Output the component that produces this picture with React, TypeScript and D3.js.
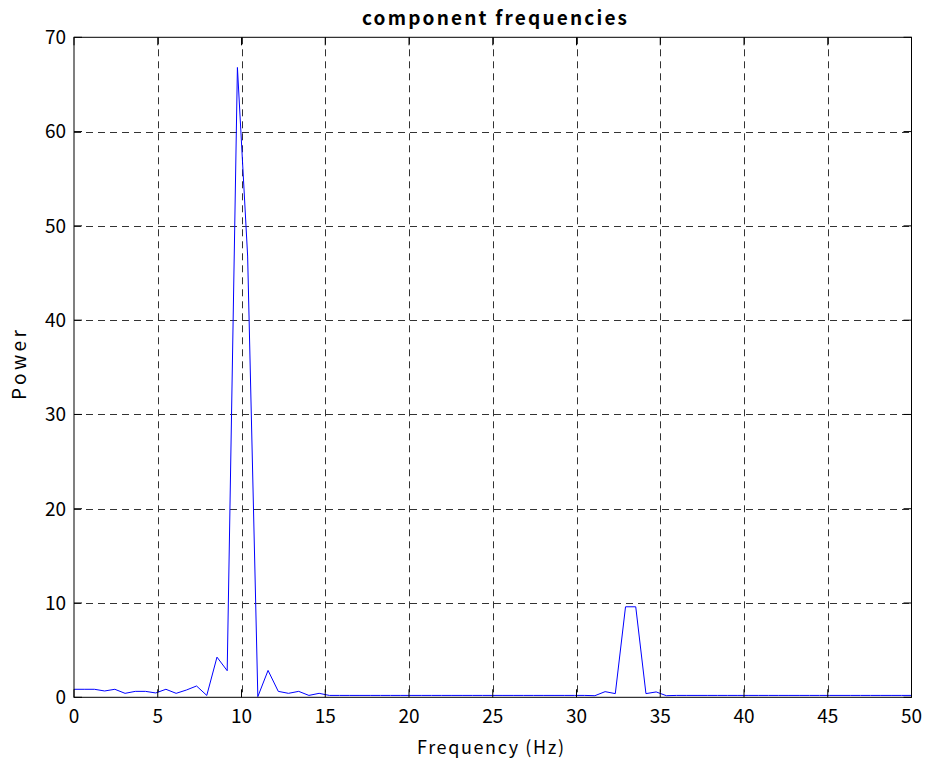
import React from "react";
import * as d3 from "d3";

// Power spectrum sampled on 83 evenly spaced bins from 0 to 50 Hz
const binCount = 83;
const maxFreq = 50;
const power: number[] = [
  0.85, 0.85, 0.85, 0.67, 0.85, 0.42, 0.63, 0.63, 0.46, 0.85,
  0.42, 0.77, 1.2, 0.2, 4.26, 2.82, 66.8, 46.8, 0.07, 2.85,
  0.63, 0.42, 0.63, 0.2, 0.42, 0.2, 0.2, 0.2, 0.2, 0.2,
  0.2, 0.2, 0.2, 0.2, 0.2, 0.2, 0.2, 0.2, 0.2, 0.2,
  0.2, 0.2, 0.2, 0.2, 0.2, 0.2, 0.2, 0.2, 0.2, 0.2,
  0.2, 0.17, 0.6, 0.39, 9.6, 9.6, 0.39, 0.57, 0.17, 0.2,
  0.2, 0.2, 0.2, 0.2, 0.2, 0.2, 0.2, 0.2, 0.2, 0.2,
  0.2, 0.2, 0.2, 0.2, 0.2, 0.2, 0.2, 0.2, 0.2, 0.2,
  0.2, 0.2, 0.2,
];
const xTicks: number[] = [0, 5, 10, 15, 20, 25, 30, 35, 40, 45, 50];
const yTicks: number[] = [0, 10, 20, 30, 40, 50, 60, 70];

const titleText = "component frequencies";
const xLabel = "Frequency (Hz)";
const yLabel = "Power";

const W = 930;
const H = 765;
const left = 74;
const right = 911.5;
const top = 37.3;
const bottom = 697.3;
const FONT = "'Noto Sans CJK JP', 'Noto Sans', sans-serif";

export default function App() {
  const x = d3.scaleLinear().domain([0, maxFreq]).range([left, right]);
  const y = d3.scaleLinear().domain([0, 70]).range([bottom, top]);
  const points = power.map((p, i) => ({ f: (i * maxFreq) / (binCount - 1), p }));
  const line = d3
    .line<{ f: number; p: number }>()
    .x((d) => x(d.f))
    .y((d) => y(d.p));
  const tickLen = 8;

  return (
    <svg
      width={W}
      height={H}
      style={{ position: "absolute", left: 0, top: 0, background: "#fff" }}
      fontFamily={FONT}
    >
      <rect x={0} y={0} width={W} height={H} fill="#fff" />
      {/* grid */}
      <g stroke="#333" strokeWidth={1} strokeDasharray="7,5" fill="none">
        {xTicks.slice(1, -1).map((t) => (
          <line key={"gx" + t} x1={Math.round(x(t)) + 0.5} x2={Math.round(x(t)) + 0.5} y1={top} y2={bottom} />
        ))}
        {yTicks.slice(1, -1).map((t) => (
          <line key={"gy" + t} x1={left} x2={right} y1={Math.round(y(t)) + 0.5} y2={Math.round(y(t)) + 0.5} />
        ))}
      </g>
      {/* spectrum */}
      <path d={line(points) ?? ""} fill="none" stroke="#0000ff" strokeWidth={1} />
      {/* axes box and inward ticks */}
      <g stroke="#000" strokeWidth={1} fill="none">
        <rect x={left} y={top} width={right - left} height={bottom - top} />
        {xTicks.map((t) => (
          <g key={"tx" + t}>
            <line x1={x(t)} x2={x(t)} y1={bottom} y2={bottom - tickLen} />
            <line x1={x(t)} x2={x(t)} y1={top} y2={top + tickLen} />
          </g>
        ))}
        {yTicks.map((t) => (
          <g key={"ty" + t}>
            <line x1={left} x2={left + tickLen} y1={y(t)} y2={y(t)} />
            <line x1={right} x2={right - tickLen} y1={y(t)} y2={y(t)} />
          </g>
        ))}
      </g>
      {/* tick labels */}
      <g fontSize={19} fill="#000">
        {xTicks.map((t) => (
          <text key={"lx" + t} x={x(t)} y={722.5} textAnchor="middle">
            {t}
          </text>
        ))}
        {yTicks.map((t) => (
          <text key={"ly" + t} x={66} y={y(t)} dy="0.36em" textAnchor="end">
            {t}
          </text>
        ))}
      </g>
      {/* labels */}
      <text
        x={494.5}
        y={25}
        fontSize={19}
        fontWeight="bold"
        textAnchor="middle"
        textLength={265}
        lengthAdjust="spacing"
      >
        {titleText}
      </text>
      <text x={490.5} y={754} fontSize={18} textAnchor="middle" textLength={147} lengthAdjust="spacing">
        {xLabel}
      </text>
      <text
        transform="translate(26,365) rotate(-90)"
        fontSize={19}
        textAnchor="middle"
        textLength={70}
        lengthAdjust="spacing"
      >
        {yLabel}
      </text>
    </svg>
  );
}
